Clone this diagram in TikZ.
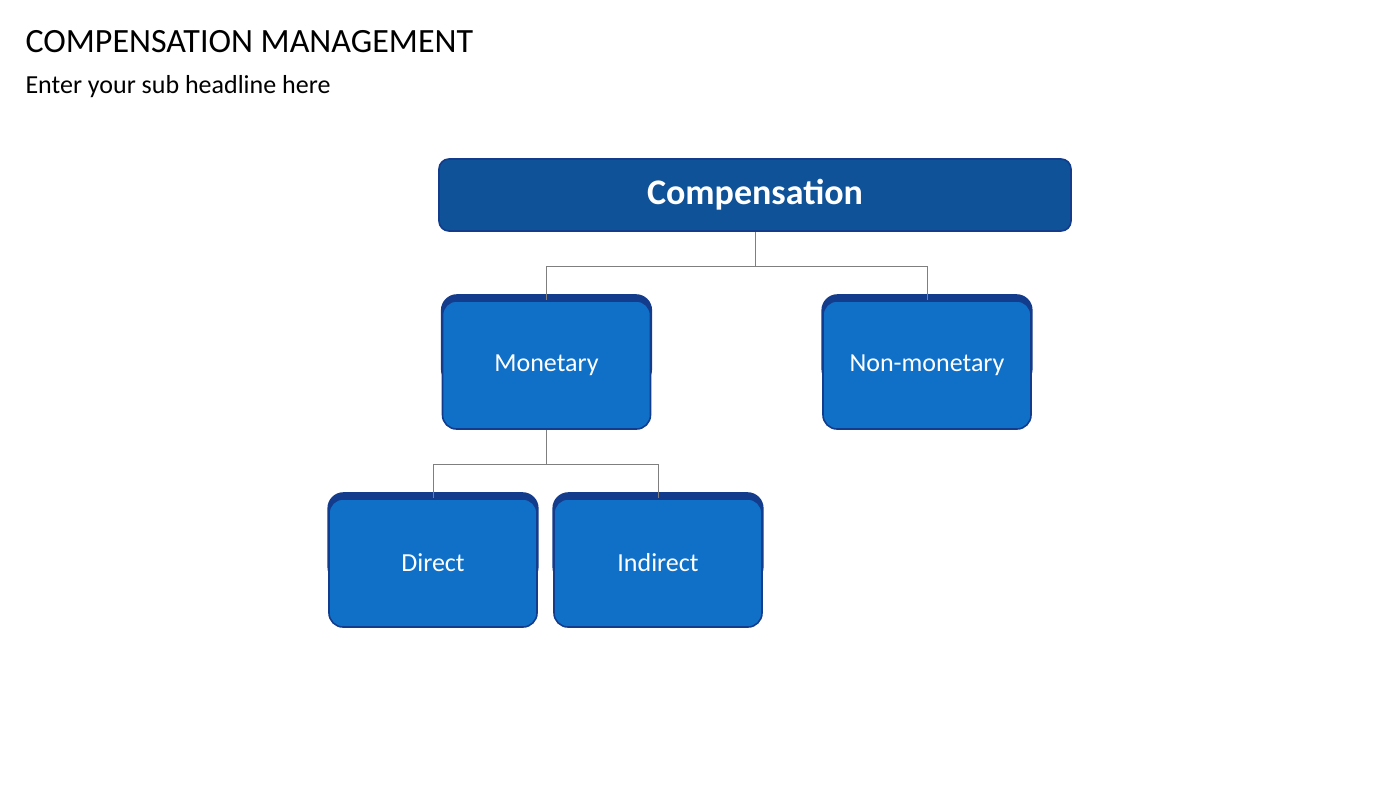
\documentclass[tikz,border=0pt]{standalone}
\usepackage{fontspec}
\setmainfont{Carlito}
\usetikzlibrary{backgrounds}
\definecolor{navy}{HTML}{143C8C}
\definecolor{topblue}{HTML}{0F5298}
\definecolor{kidblue}{HTML}{1070C8}
\definecolor{conn}{HTML}{7F7F7F}
\tikzset{
  kid/.style={fill=kidblue, draw=navy, line width=1.6pt, rounded corners=14pt, minimum width=208pt, minimum height=128pt, text=white, font=\fontsize{26}{30}\selectfont, inner sep=0pt},
  topbox/.style={fill=topblue, draw=navy, line width=1.6pt, rounded corners=10pt, minimum width=632pt, minimum height=72pt, text=white, font=\fontsize{36}{40}\selectfont\bfseries, inner sep=0pt},
  conline/.style={draw=conn, line width=0.8pt}
}
\begin{document}
\begin{tikzpicture}[x=1pt,y=-1pt]
\useasboundingbox (0,0) rectangle (1400,787);
\node[anchor=west, font=\fontsize{34}{38}\selectfont] (title) at (22,42) {COMPENSATION MANAGEMENT};
\node[anchor=west, font=\fontsize{26}{30}\selectfont] (sub) at (22,87) {Enter your sub headline here};
\node[topbox] (comp) at (755,195) {Compensation};
\node[kid] (mon) at (546.5,365) {Monetary};
\node[kid] (non) at (927,365) {Non-monetary};
\node[kid] (dir) at (433,563) {Direct};
\node[kid] (ind) at (658,563) {Indirect};
\begin{scope}[on background layer]
\foreach \n in {mon,non,dir,ind}{
  \fill[navy, rounded corners=16pt] ([xshift=-0.8pt,yshift=6pt]\n.north west) rectangle ([xshift=0.8pt,yshift=-20pt]\n.east);
}
\coordinate (j1) at (755,266);
\coordinate (j2) at (546.5,464);
\draw[conline] (comp.south) -- (j1) -| (mon.north);
\draw[conline] (j1) -| (non.north);
\draw[conline] (mon.south) -- (j2) -| (dir.north);
\draw[conline] (j2) -| (ind.north);
\end{scope}
\end{tikzpicture}
\end{document}
